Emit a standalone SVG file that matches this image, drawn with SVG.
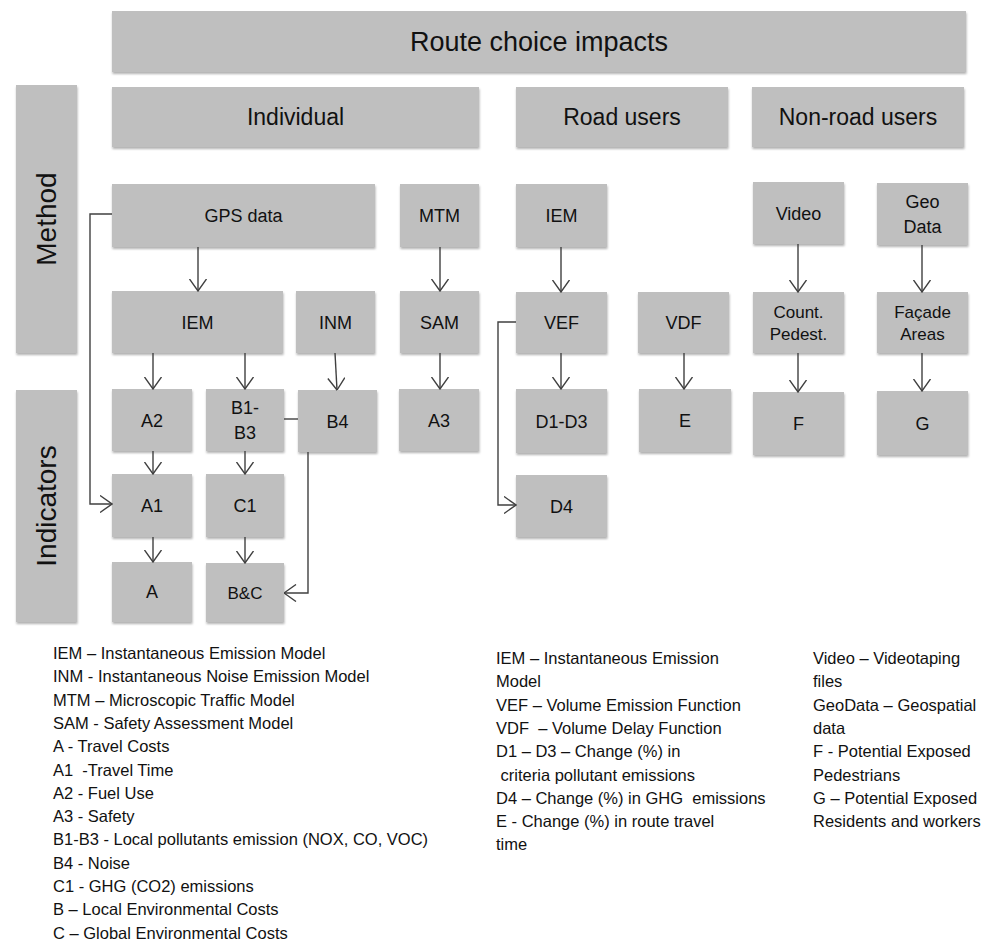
<svg xmlns="http://www.w3.org/2000/svg" width="1005" height="942" viewBox="0 0 1005 942">
<style>
.box{fill:#bfbfbf;filter:url(#sh)}
.t{font-family:"Liberation Sans",Arial,sans-serif;fill:#111;text-anchor:middle;font-size:18px}
.h{font-size:23px}
.big{font-size:27px}
.side{font-size:28px}
.sm{font-size:17px}
.c{fill:none;stroke:#404040;stroke-width:1.4}
.leg{font-family:"Liberation Sans",Arial,sans-serif;fill:#111;font-size:16.5px}
</style>
<defs>
<filter id="sh" x="-10%" y="-10%" width="120%" height="130%">
<feDropShadow dx="0.5" dy="2" stdDeviation="1.2" flood-color="#000" flood-opacity="0.3"/>
</filter>
<marker id="ar" viewBox="0 0 13 18" refX="12.5" refY="9" markerWidth="13" markerHeight="18" markerUnits="userSpaceOnUse" orient="auto">
<path d="M0.5,0.5 L12.5,9 L0.5,17.5" fill="none" stroke="#404040" stroke-width="1.4"/>
</marker>
</defs>
<rect width="1005" height="942" fill="#fff"/>

<g id="title"><rect class="box" x="112" y="11" width="854" height="61"/><text class="t big" x="539" y="51">Route choice impacts</text></g>
<g id="individual"><rect class="box" x="112" y="87" width="367" height="60"/><text class="t h" x="295.5" y="125">Individual</text></g>
<g id="road-users"><rect class="box" x="516" y="87" width="212" height="60"/><text class="t h" x="622" y="125">Road users</text></g>
<g id="non-road-users"><rect class="box" x="752" y="87" width="212" height="60"/><text class="t h" x="858" y="125">Non-road users</text></g>
<g id="method"><rect class="box" x="16" y="85" width="61" height="268"/><text class="t side" transform="translate(56,219) rotate(-90)">Method</text></g>
<g id="indicators"><rect class="box" x="16" y="390" width="61" height="232"/><text class="t side" transform="translate(56,506) rotate(-90)">Indicators</text></g>

<g id="gps"><rect class="box" x="112" y="184" width="263" height="63"/><text class="t" x="243.5" y="222">GPS data</text></g>
<g id="mtm"><rect class="box" x="400" y="184" width="79" height="63"/><text class="t" x="439.5" y="222">MTM</text></g>
<g id="iem1"><rect class="box" x="112" y="291" width="171" height="62"/><text class="t" x="197.5" y="328.5">IEM</text></g>
<g id="inm"><rect class="box" x="296" y="291" width="79" height="62"/><text class="t" x="335.5" y="328.5">INM</text></g>
<g id="sam"><rect class="box" x="400" y="291" width="79" height="62"/><text class="t" x="439.5" y="328.5">SAM</text></g>
<g id="a2"><rect class="box" x="112" y="389" width="80" height="62"/><text class="t" x="152" y="426.5">A2</text></g>
<g id="b1b3"><rect class="box" x="206" y="389" width="78" height="62"/><text class="t" x="245" y="414">B1-</text><text class="t" x="245" y="439">B3</text></g>
<g id="b4"><rect class="box" x="298" y="390" width="79" height="62"/><text class="t" x="337.5" y="427.5">B4</text></g>
<g id="a3"><rect class="box" x="399" y="389" width="80" height="62"/><text class="t" x="439" y="426.5">A3</text></g>
<g id="a1"><rect class="box" x="112" y="474" width="80" height="63"/><text class="t" x="152" y="512">A1</text></g>
<g id="c1"><rect class="box" x="206" y="474" width="78" height="63"/><text class="t" x="245" y="512">C1</text></g>
<g id="a"><rect class="box" x="112" y="562" width="80" height="60"/><text class="t" x="152" y="598">A</text></g>
<g id="bc"><rect class="box" x="206" y="563" width="78" height="59"/><text class="t sm" x="245" y="599">B&amp;C</text></g>

<g id="iem2"><rect class="box" x="516" y="184" width="91" height="63"/><text class="t" x="561.5" y="222">IEM</text></g>
<g id="vef"><rect class="box" x="516" y="292" width="91" height="61"/><text class="t" x="561.5" y="329">VEF</text></g>
<g id="d1d3"><rect class="box" x="516" y="389" width="91" height="64"/><text class="t" x="561.5" y="427.5">D1-D3</text></g>
<g id="d4"><rect class="box" x="516" y="475" width="91" height="62"/><text class="t" x="561.5" y="512.5">D4</text></g>
<g id="vdf"><rect class="box" x="638" y="292" width="91" height="61"/><text class="t" x="683.5" y="329">VDF</text></g>
<g id="e"><rect class="box" x="639" y="389" width="92" height="63"/><text class="t" x="685" y="426.5">E</text></g>
<g id="video"><rect class="box" x="753" y="182" width="91" height="62"/><text class="t" x="798.5" y="219.5">Video</text></g>
<g id="count"><rect class="box" x="753" y="292" width="91" height="61"/><text class="t sm" x="798.5" y="318">Count.</text><text class="t sm" x="798.5" y="340">Pedest.</text></g>
<g id="f"><rect class="box" x="753" y="392" width="91" height="63"/><text class="t" x="798.5" y="430">F</text></g>
<g id="geo"><rect class="box" x="877" y="183" width="91" height="62"/><text class="t" x="922.5" y="208">Geo</text><text class="t" x="922.5" y="233">Data</text></g>
<g id="facade"><rect class="box" x="877" y="292" width="91" height="61"/><text class="t sm" x="922.5" y="318">Façade</text><text class="t sm" x="922.5" y="340">Areas</text></g>
<g id="g"><rect class="box" x="877" y="391" width="91" height="64"/><text class="t" x="922.5" y="429.5">G</text></g>

<g id="connectors">
<path class="c" marker-end="url(#ar)" d="M198,247 V291"/>
<path class="c" marker-end="url(#ar)" d="M440,247 V291"/>
<path class="c" marker-end="url(#ar)" d="M153,353 V389"/>
<path class="c" marker-end="url(#ar)" d="M245,353 V389"/>
<path class="c" marker-end="url(#ar)" d="M335,353 L337,390"/>
<path class="c" marker-end="url(#ar)" d="M440,353 V389"/>
<path class="c" marker-end="url(#ar)" d="M153,451 V474"/>
<path class="c" marker-end="url(#ar)" d="M245,451 V474"/>
<path class="c" marker-end="url(#ar)" d="M153,537 V562"/>
<path class="c" marker-end="url(#ar)" d="M245,537 V563"/>
<path class="c" d="M284,419 H298"/>
<path class="c" marker-end="url(#ar)" d="M308,452 V593 H284"/>
<path class="c" marker-end="url(#ar)" d="M112,214 H90 V504 H112"/>
<path class="c" marker-end="url(#ar)" d="M561,247 V292"/>
<path class="c" marker-end="url(#ar)" d="M561,353 V389"/>
<path class="c" marker-end="url(#ar)" d="M516,322 H498 V505 H516"/>
<path class="c" marker-end="url(#ar)" d="M684,353 V389"/>
<path class="c" marker-end="url(#ar)" d="M798,244 V292"/>
<path class="c" marker-end="url(#ar)" d="M922,245 V292"/>
<path class="c" marker-end="url(#ar)" d="M798,353 V392"/>
<path class="c" marker-end="url(#ar)" d="M922,353 V391"/>
</g>

<g id="legend-left" class="leg">
<text x="53" y="659">IEM – Instantaneous Emission Model</text>
<text x="53" y="682.3">INM - Instantaneous Noise Emission Model</text>
<text x="53" y="705.6">MTM – Microscopic Traffic Model</text>
<text x="53" y="728.9">SAM - Safety Assessment Model</text>
<text x="53" y="752.2">A - Travel Costs</text>
<text x="53" y="775.5" xml:space="preserve">A1  -Travel Time</text>
<text x="53" y="798.8">A2 - Fuel Use</text>
<text x="53" y="822.1">A3 - Safety</text>
<text x="53" y="845.4">B1-B3 - Local pollutants emission (NOX, CO, VOC)</text>
<text x="53" y="868.7">B4 - Noise</text>
<text x="53" y="892">C1 - GHG (CO2) emissions</text>
<text x="53" y="915.3">B – Local Environmental Costs</text>
<text x="53" y="938.6">C – Global Environmental Costs</text>
</g>
<g id="legend-middle" class="leg">
<text x="496" y="664">IEM – Instantaneous Emission</text>
<text x="496" y="687.3">Model</text>
<text x="496" y="710.6">VEF – Volume Emission Function</text>
<text x="496" y="733.9" xml:space="preserve">VDF  – Volume Delay Function</text>
<text x="496" y="757.2">D1 – D3 – Change (%) in</text>
<text x="496" y="780.5" xml:space="preserve"> criteria pollutant emissions</text>
<text x="496" y="803.8" xml:space="preserve">D4 – Change (%) in GHG  emissions</text>
<text x="496" y="827.1">E - Change (%) in route travel</text>
<text x="496" y="850.4">time</text>
</g>
<g id="legend-right" class="leg">
<text x="813" y="664">Video – Videotaping</text>
<text x="813" y="687.3">files</text>
<text x="813" y="710.6">GeoData – Geospatial</text>
<text x="813" y="733.9">data</text>
<text x="813" y="757.2">F - Potential Exposed</text>
<text x="813" y="780.5">Pedestrians</text>
<text x="813" y="803.8">G – Potential Exposed</text>
<text x="813" y="827.1">Residents and workers</text>
</g>
</svg>
